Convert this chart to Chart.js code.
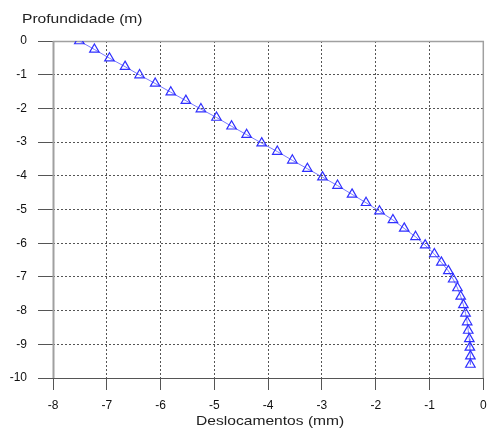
<!DOCTYPE html>
<html>
<head>
<meta charset="utf-8">
<script src="https://cdn.jsdelivr.net/npm/chart.js@4.4.0/dist/chart.umd.min.js"></script>
<style>
  html, body { margin: 0; padding: 0; background: #fff; }
</style>
</head>
<body>
<canvas id="chart" width="490" height="428"></canvas>
<script>
// profundidade (m) de cada ponto
const depths = [
  0, -0.25, -0.51, -0.76, -1.01, -1.26, -1.52, -1.77, -2.02, -2.27,
  -2.53, -2.78, -3.03, -3.28, -3.54, -3.79, -4.04, -4.29, -4.55, -4.80,
  -5.05, -5.31, -5.56, -5.81, -6.06, -6.32, -6.57, -6.82, -7.07, -7.33,
  -7.58, -7.83, -8.08, -8.34, -8.59, -8.84, -9.09, -9.35, -9.60
];
// deslocamentos (mm)
const displacements = [
  -7.51, -7.23, -6.95, -6.66, -6.39, -6.10, -5.81, -5.53, -5.25, -4.96,
  -4.68, -4.40, -4.12, -3.83, -3.55, -3.27, -2.99, -2.71, -2.44, -2.18,
  -1.93, -1.68, -1.47, -1.26, -1.08, -0.91, -0.78, -0.65, -0.56, -0.48,
  -0.42, -0.37, -0.33, -0.30, -0.28, -0.26, -0.25, -0.24, -0.24
];
const xRange = [-8, 0];
const yRange = [-10, 0];
const xTitle = 'Deslocamentos (mm)';
const yTitle = 'Profundidade (m)';

const points = displacements.map((d, i) => ({ x: d, y: depths[i] }));

// moldura do grafico (por cima da grade, por baixo dos pontos)
const frame = {
  id: 'frame',
  beforeDatasetsDraw(chart) {
    const { ctx, chartArea: a } = chart;
    ctx.save();
    ctx.strokeStyle = '#a0a0a0';
    ctx.lineWidth = 1.5;
    ctx.beginPath();
    ctx.moveTo(a.left, a.top + 0.5);
    ctx.lineTo(a.right, a.top + 0.5);
    ctx.lineTo(a.right, a.bottom);
    ctx.stroke();
    ctx.lineWidth = 2;
    ctx.beginPath();
    ctx.moveTo(a.left + 0.5, a.top);
    ctx.lineTo(a.left + 0.5, a.bottom);
    ctx.stroke();
    ctx.strokeStyle = '#555';
    ctx.lineWidth = 1.2;
    ctx.beginPath();
    ctx.moveTo(a.left, a.bottom + 0.5);
    ctx.lineTo(a.right, a.bottom + 0.5);
    ctx.stroke();
    ctx.restore();
  }
};

// titulos dos eixos, um pouco esticados na horizontal como no original
const titles = {
  id: 'titles',
  afterDraw(chart) {
    const { ctx, chartArea: a } = chart;
    ctx.save();
    ctx.fillStyle = '#222';
    ctx.font = '13px "Liberation Sans", Arial, sans-serif';
    ctx.textBaseline = 'alphabetic';

    ctx.save();
    ctx.translate(22, 23);
    ctx.scale(1.2, 1);
    ctx.fillText(yTitle, 0, 0);
    ctx.restore();

    ctx.save();
    ctx.translate((a.left + a.right) / 2 + 2, 425);
    ctx.scale(1.2, 1);
    ctx.textAlign = 'center';
    ctx.fillText(xTitle, 0, 0);
    ctx.restore();

    ctx.restore();
  }
};

const tickFont = { family: '"Liberation Sans", Arial, sans-serif', size: 12 };

new Chart(document.getElementById('chart'), {
  type: 'scatter',
  data: {
    datasets: [{
      data: points,
      showLine: true,
      borderColor: '#7a7aff',
      borderWidth: 1,
      tension: 0,
      pointStyle: 'triangle',
      pointRadius: 5.5,
      pointHoverRadius: 5.5,
      pointBorderColor: '#3030ff',
      pointBackgroundColor: 'rgba(0,0,0,0)',
      pointBorderWidth: 1.2
    }]
  },
  options: {
    responsive: false,
    animation: false,
    devicePixelRatio: 1,
    layout: { padding: { top: 41, right: 3, left: 0, bottom: 0 } },
    plugins: {
      legend: { display: false },
      tooltip: { enabled: false }
    },
    scales: {
      x: {
        type: 'linear',
        min: xRange[0],
        max: xRange[1],
        ticks: { stepSize: 1, color: '#111', font: tickFont, padding: 8, maxRotation: 0 },
        grid: { color: '#555', lineWidth: 1, tickLength: 12, tickColor: '#555', tickBorderDash: [] },
        border: { display: false, dash: [2, 2] },
        afterFit(s) { s.height = 50; s.paddingLeft = 0; s.paddingRight = 0; }
      },
      y: {
        type: 'linear',
        min: yRange[0],
        max: yRange[1],
        ticks: { stepSize: 1, color: '#111', font: tickFont, padding: 11 },
        grid: { color: '#555', lineWidth: 1, tickLength: 15, tickColor: '#555', tickBorderDash: [] },
        border: { display: false, dash: [2, 2] },
        afterFit(s) { s.width = 53; s.paddingTop = 0; s.paddingBottom = 0; }
      }
    }
  },
  plugins: [frame, titles]
});
</script>
</body>
</html>
